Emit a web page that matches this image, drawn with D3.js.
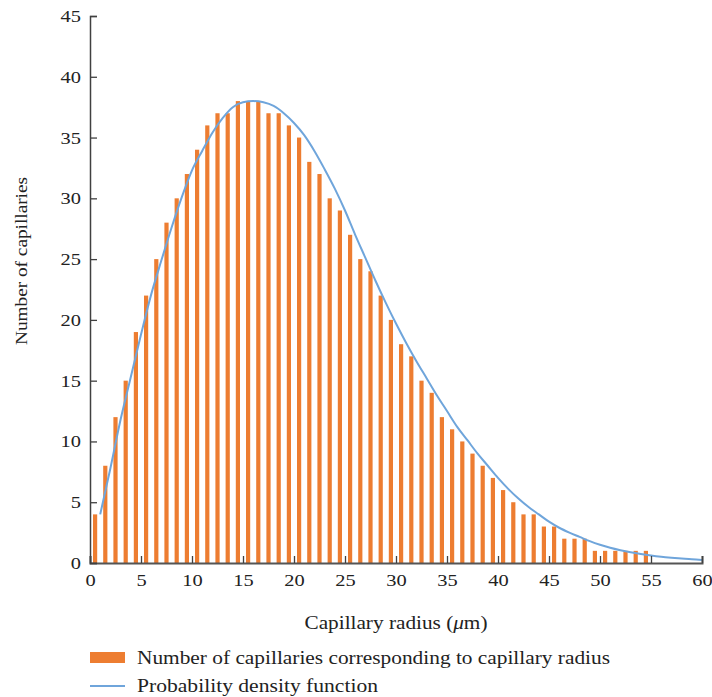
<!DOCTYPE html>
<html>
<head>
<meta charset="utf-8">
<script src="https://cdn.jsdelivr.net/npm/d3@7"></script>
<style>
  html, body { margin: 0; padding: 0; background: #fff; }
  svg { display: block; font-family: "Liberation Serif", "DejaVu Serif", serif; }
</style>
</head>
<body>
<svg id="chart" width="712" height="697"></svg>
<script>
// Histogram bins: upper edge of each 1 µm radius bin and the count in it
const binUpper = [1,2,3,4,5,6,7,8,9,10,11,12,13,14,15,16,17,18,19,20,
  21,22,23,24,25,26,27,28,29,30,31,32,33,34,35,36,37,38,39,40,
  41,42,43,44,45,46,47,48,49,50,51,52,53,54,55];
const counts = [4,8,12,15,19,22,25,28,30,32,34,36,37,37,38,38,38,37,37,36,
  35,33,32,30,29,27,25,24,22,20,18,17,15,14,12,11,10,9,8,7,
  6,5,4,4,3,3,2,2,2,1,1,1,1,1,1];

// Fitted probability density, scaled to capillary counts
const pdfRadius = [1,2,3,4,5,6,7,8,9,10,11,12,13,14,15,16,17,18,19,20,
  21,22,23,24,25,26,27,28,29,30,31,32,33,34,35,36,37,38,39,40,
  41,42,43,44,45,46,47,48,49,50,51,52,53,54,55,56,57,58,59,60];
const pdfValue = [4.0,7.8,11.8,15.3,18.8,22.1,24.9,27.6,30.1,32.3,33.9,35.4,36.6,37.5,37.9,38.0,37.9,37.6,37.0,36.2,
  35.2,33.9,32.4,30.8,29.0,27.0,25.1,23.2,21.4,19.7,18.1,16.6,15.2,13.8,12.5,11.2,10.1,9.0,8.0,7.0,
  6.1,5.3,4.6,4.0,3.4,2.9,2.5,2.15,1.8,1.5,1.25,1.05,0.88,0.74,0.62,0.52,0.44,0.37,0.3,0.25];

const xTicks = [0,5,10,15,20,25,30,35,40,45,50,55,60];
const yTicks = [0,5,10,15,20,25,30,35,40,45];

const xTitle = "Capillary radius (", xTitleUnit = "μ", xTitleEnd = "m)";
const yTitle = "Number of capillaries";
const legendBars = "Number of capillaries corresponding to capillary radius";
const legendLine = "Probability density function";

const barColor = "#ED7D31";
const lineColor = "#6FA5DB";
const axisColor = "#404040";
const textColor = "#222";

// Stretch a text run horizontally (the typeface here is wider than Liberation Serif)
function widen(sel, factor) {
  sel.each(function () {
    const w = this.getComputedTextLength();
    d3.select(this).attr("textLength", w * factor).attr("lengthAdjust", "spacingAndGlyphs");
  });
}

const svg = d3.select("#chart");
const x = d3.scaleLinear().domain([0, 60]).range([90, 702]);
const y = d3.scaleLinear().domain([0, 45]).range([563, 16]);

// Bars, one per radius bin, centred on the bin
const barW = 4.2;
svg.append("g").selectAll("rect")
  .data(counts)
  .join("rect")
  .attr("x", (d, i) => x(binUpper[i] - 0.5) - barW / 2)
  .attr("y", d => y(d))
  .attr("width", barW)
  .attr("height", d => y(0) - y(d))
  .attr("fill", barColor);

// Density curve
const line = d3.line()
  .x((d, i) => x(pdfRadius[i]))
  .y(d => y(d))
  .curve(d3.curveMonotoneX);
svg.append("path")
  .datum(pdfValue)
  .attr("d", line)
  .attr("fill", "none")
  .attr("stroke", lineColor)
  .attr("stroke-width", 2);

// Axes with inward ticks
const xAxis = svg.append("g")
  .attr("transform", `translate(0,${y(0)})`)
  .call(d3.axisBottom(x).tickValues(xTicks).tickSize(-7).tickPadding(11).tickFormat(d3.format("d")));
const yAxis = svg.append("g")
  .attr("transform", `translate(${x(0)},0)`)
  .call(d3.axisLeft(y).tickValues(yTicks).tickSize(-7).tickPadding(9).tickFormat(d3.format("d")));

[xAxis, yAxis].forEach(g => {
  g.select(".domain").attr("stroke", axisColor).attr("stroke-width", 1.5);
  g.selectAll(".tick line").attr("stroke", axisColor).attr("stroke-width", 1.3);
  g.selectAll(".tick text")
    .attr("fill", textColor)
    .style("font-family", "'Liberation Serif', 'DejaVu Serif', serif")
    .style("font-size", "17px")
    .call(widen, 1.2);
});
xAxis.select(".domain").attr("stroke", "#555").attr("stroke-width", 2);

// Axis titles
const xt = svg.append("text")
  .attr("x", 396).attr("y", 629)
  .attr("text-anchor", "middle")
  .attr("fill", textColor)
  .style("font-size", "18px");
xt.append("tspan").text(xTitle);
xt.append("tspan").style("font-style", "italic").text(xTitleUnit);
xt.append("tspan").text(xTitleEnd);
xt.attr("textLength", 183).attr("lengthAdjust", "spacingAndGlyphs");

svg.append("text")
  .attr("transform", "translate(27,261) rotate(-90)")
  .attr("text-anchor", "middle")
  .attr("fill", textColor)
  .style("font-size", "17.5px")
  .text(yTitle)
  .attr("textLength", 168).attr("lengthAdjust", "spacingAndGlyphs");

// Legend
const lg = svg.append("g");
lg.append("rect").attr("x", 90).attr("y", 652).attr("width", 35).attr("height", 11).attr("fill", barColor);
lg.append("text").attr("x", 137).attr("y", 664).attr("fill", textColor).style("font-size", "18.5px")
  .text(legendBars).attr("textLength", 473).attr("lengthAdjust", "spacingAndGlyphs");
lg.append("line").attr("x1", 90).attr("x2", 125).attr("y1", 686).attr("y2", 686)
  .attr("stroke", lineColor).attr("stroke-width", 2);
lg.append("text").attr("x", 137).attr("y", 692).attr("fill", textColor).style("font-size", "18.5px")
  .text(legendLine).attr("textLength", 241).attr("lengthAdjust", "spacingAndGlyphs");
</script>
</body>
</html>
